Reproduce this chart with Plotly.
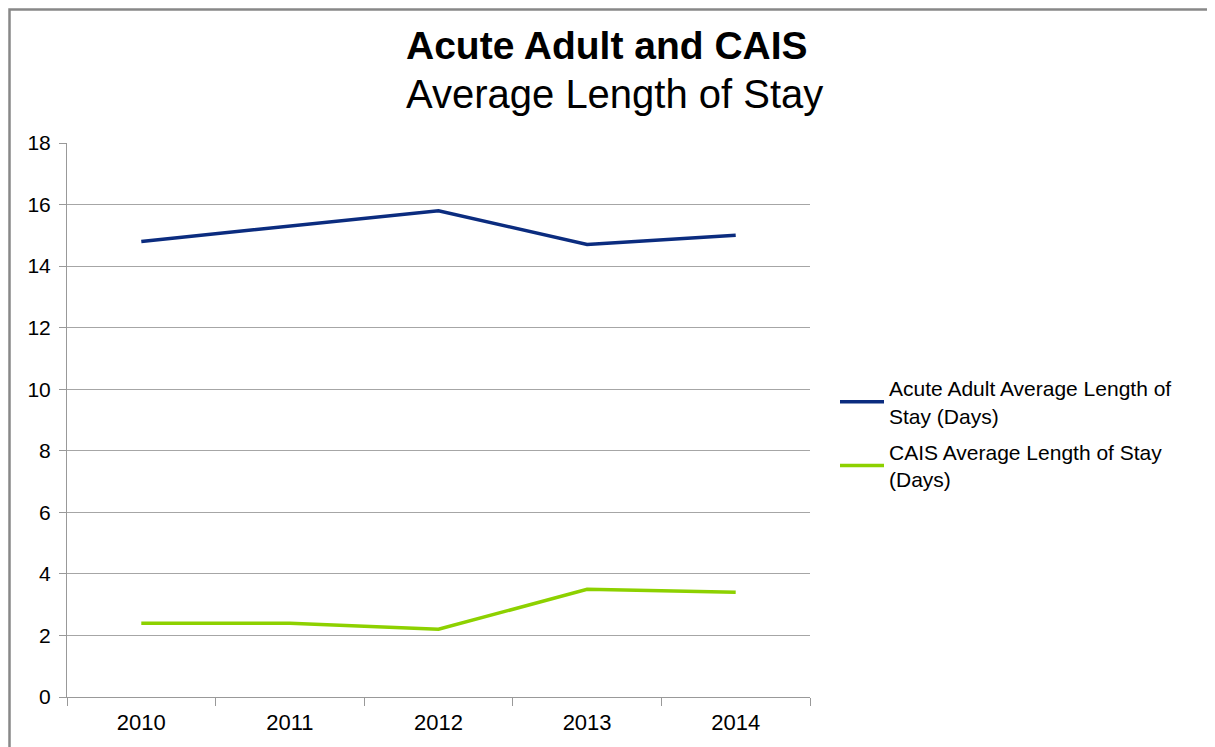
import plotly.graph_objects as go

years = ["2010", "2011", "2012", "2013", "2014"]
acute_adult = [14.8, 15.3, 15.8, 14.7, 15.0]
cais = [2.4, 2.4, 2.2, 3.5, 3.4]
series_names = ["Acute Adult Average Length of<br>Stay (Days)",
                "CAIS Average Length of Stay<br>(Days)"]
title_line1 = "Acute Adult and CAIS"
title_line2 = "Average Length of Stay"

FONT = "Liberation Sans, Arial, sans-serif"
OFF = 8  # page body margin
W, H = 1215, 747
L, T = 67 - OFF, 143 - OFF
R = W - (810 - OFF)
B = H - (697 - OFF)
pw, ph = W - L - R, H - T - B


def px_x(x):
    return (x - OFF - L) / pw


def px_y(y):
    return (H - B - (y - OFF)) / ph


fig = go.Figure()
fig.add_trace(go.Scatter(x=years, y=acute_adult, mode="lines", name=series_names[0],
                         legendgroup="a",
                         line=dict(color="#0B2C7F", width=3.5)))
fig.add_trace(go.Scatter(x=years, y=cais, mode="lines", name=series_names[1],
                         legendgroup="b",
                         line=dict(color="#8DD100", width=3.5)))

fig.update_layout(
    width=W, height=H,
    margin=dict(l=L, r=R, t=T, b=B),
    paper_bgcolor="white", plot_bgcolor="white",
    font=dict(family=FONT, color="black", size=20),
    showlegend=True,
    legend=dict(x=px_x(835), xanchor="left", y=px_y(434), yanchor="middle",
                font=dict(family=FONT, size=21, color="black"),
                itemwidth=44, tracegroupgap=6, bgcolor="rgba(0,0,0,0)"),
    xaxis=dict(type="category", range=[-0.5, 4.5], tickson="boundaries",
               ticks="outside", ticklen=8, tickcolor="#999999",
               showline=True, linecolor="#999999", linewidth=1,
               showgrid=False, tickfont=dict(size=22, family=FONT),
               ticklabelstandoff=6),
    yaxis=dict(range=[0, 18], dtick=2, ticks="outside", ticklen=7,
               tickcolor="#999999", showline=True, linecolor="#999999",
               linewidth=1, showgrid=True, gridcolor="#A6A6A6", gridwidth=1,
               zeroline=False, tickfont=dict(size=21, family=FONT),
               ticklabelstandoff=4),
    shapes=[dict(type="rect", xref="paper", yref="paper",
                 x0=px_x(9.5), x1=px_x(1300), y0=px_y(800), y1=px_y(9.5),
                 line=dict(color="#888888", width=2.5), fillcolor="rgba(0,0,0,0)",
                 layer="below")],
    annotations=[
        dict(text="<b>" + title_line1 + "</b>", xref="paper", yref="paper",
             x=px_x(607), y=px_y(46), xanchor="center", yanchor="middle",
             showarrow=False, font=dict(family=FONT, size=39, color="black")),
        dict(text=title_line2, xref="paper", yref="paper",
             x=px_x(614), y=px_y(94), xanchor="center", yanchor="middle",
             showarrow=False, font=dict(family=FONT, size=40, color="black")),
    ],
)

fig.write_html("out.html")
